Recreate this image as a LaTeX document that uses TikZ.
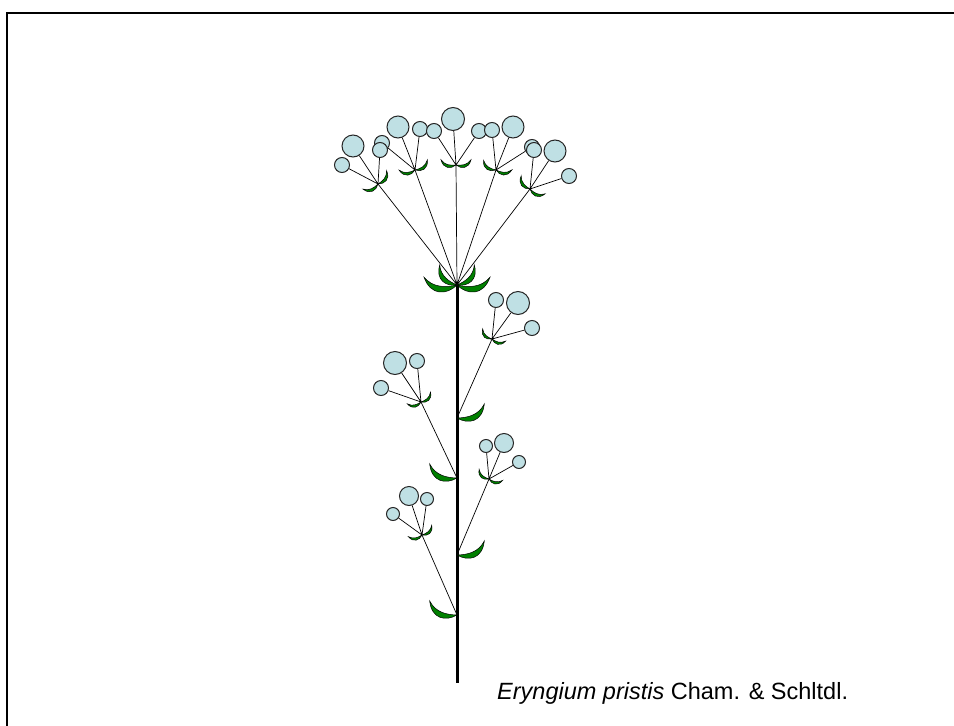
\documentclass[tikz,border=0pt]{standalone}
\usepackage{fontspec}
\setmainfont{Liberation Sans}
\usepackage{tikz}
\usetikzlibrary{backgrounds}
\definecolor{petal}{RGB}{191,224,228}
\definecolor{leaf}{RGB}{0,128,0}

\begin{document}
\begin{tikzpicture}[x=1pt,y=-1pt,
  flower/.style={draw=black!85,fill=petal,circle,inner sep=0pt,line width=1pt},
  stalk/.style={line width=0.7pt},
  bract/.pic={
    \filldraw[fill=leaf,draw=black,line width=0.5pt] (0,0)
      .. controls (0.35,0.28) and (0.85,0.26) .. (1,-0.35)
      .. controls (0.75,0.02) and (0.35,0.04) .. (0,0) -- cycle;
  }]
  \useasboundingbox (0,0) rectangle (954,726);
  \draw[line width=2pt] (7,726) -- (7,13) -- (954,13);

  % stem, umbel centre and side branches
  \coordinate (m) at (457,285);
  \coordinate (base) at (457,683);
  \coordinate (u1) at (378,184);
  \coordinate (u2) at (415,170);
  \coordinate (u3) at (456,165);
  \coordinate (u4) at (496,170);
  \coordinate (u5) at (530,189);
  \coordinate (sa) at (457,418);
  \coordinate (a) at (492,339);
  \coordinate (sb) at (457,478);
  \coordinate (b) at (421,402);
  \coordinate (sc) at (457,555);
  \coordinate (c) at (489,479);
  \coordinate (sd) at (457,615);
  \coordinate (d) at (422,535);

  % flowers (back ones first)
  \node[flower,minimum size=15pt] (f21) at (382,143){};
  \node[flower,minimum size=22pt] (f22) at (398,127){};
  \node[flower,minimum size=15pt] (f23) at (420,129){};
  \node[flower,minimum size=22pt] (f11) at (353,146){};
  \node[flower,minimum size=15pt] (f12) at (342,165){};
  \node[flower,minimum size=15pt] (f13) at (380,150){};
  \node[flower,minimum size=15pt] (f31) at (434,131){};
  \node[flower,minimum size=23pt] (f32) at (453,119){};
  \node[flower,minimum size=15pt] (f33) at (479,131){};
  \node[flower,minimum size=15pt] (f41) at (492,130){};
  \node[flower,minimum size=22pt] (f42) at (513,127){};
  \node[flower,minimum size=15pt] (f43) at (532,147){};
  \node[flower,minimum size=15pt] (f51) at (534,150){};
  \node[flower,minimum size=22pt] (f52) at (555,151){};
  \node[flower,minimum size=15pt] (f53) at (569,176){};

  \node[flower,minimum size=15pt] (fa1) at (496,300){};
  \node[flower,minimum size=23pt] (fa2) at (518,303){};
  \node[flower,minimum size=15pt] (fa3) at (532,328){};
  \node[flower,minimum size=23pt] (fb1) at (395,363){};
  \node[flower,minimum size=15pt] (fb2) at (417,361){};
  \node[flower,minimum size=15pt] (fb3) at (381,388){};
  \node[flower,minimum size=13pt] (fc1) at (486,446){};
  \node[flower,minimum size=19pt] (fc2) at (504,443){};
  \node[flower,minimum size=13pt] (fc3) at (519,462){};
  \node[flower,minimum size=19pt] (fd1) at (409,496){};
  \node[flower,minimum size=13pt] (fd2) at (427,499){};
  \node[flower,minimum size=13pt] (fd3) at (393,514){};

  \begin{scope}[on background layer]
    \draw[line width=3pt] (m) -- (base);
    \draw[stalk] (m)--(u1) (m)--(u2) (m)--(u3) (m)--(u4) (m)--(u5);
    \draw[stalk] (sa)--(a) (sb)--(b) (sc)--(c) (sd)--(d);
    \draw[stalk] (u1)--(f11) (u1)--(f12) (u1)--(f13);
    \draw[stalk] (u2)--(f21) (u2)--(f22) (u2)--(f23);
    \draw[stalk] (u3)--(f31) (u3)--(f32) (u3)--(f33);
    \draw[stalk] (u4)--(f41) (u4)--(f42) (u4)--(f43);
    \draw[stalk] (u5)--(f51) (u5)--(f52) (u5)--(f53);
    \draw[stalk] (a)--(fa1) (a)--(fa2) (a)--(fa3);
    \draw[stalk] (b)--(fb1) (b)--(fb2) (b)--(fb3);
    \draw[stalk] (c)--(fc1) (c)--(fc2) (c)--(fc3);
    \draw[stalk] (d)--(fd1) (d)--(fd2) (d)--(fd3);
  \end{scope}

  % involucre
  \pic[rotate=-6,scale=32] at (m) {bract};
  \pic[rotate=6,scale=32,xscale=-1] at (m) {bract};
  \pic[rotate=30,scale=25] at (m) {bract};
  \pic[rotate=-30,scale=25,xscale=-1] at (m) {bract};

  % bracteoles
  \pic[rotate=38,scale=15] at (u1) {bract};
  \pic[rotate=38,scale=15,xscale=-1] at (u1) {bract};
  \pic[rotate=20,scale=15] at (u2) {bract};
  \pic[rotate=20,scale=15,xscale=-1] at (u2) {bract};
  \pic[scale=15] at (u3) {bract};
  \pic[scale=15,xscale=-1] at (u3) {bract};
  \pic[rotate=-19,scale=15] at (u4) {bract};
  \pic[rotate=-19,scale=15,xscale=-1] at (u4) {bract};
  \pic[rotate=-37,scale=15] at (u5) {bract};
  \pic[rotate=-37,scale=15,xscale=-1] at (u5) {bract};
  \pic[rotate=-28,scale=13] at (a) {bract};
  \pic[rotate=-28,scale=13,xscale=-1] at (a) {bract};
  \pic[rotate=27,scale=13] at (b) {bract};
  \pic[rotate=27,scale=13,xscale=-1] at (b) {bract};
  \pic[rotate=-25,scale=13] at (c) {bract};
  \pic[rotate=-25,scale=13,xscale=-1] at (c) {bract};
  \pic[rotate=26,scale=13] at (d) {bract};
  \pic[rotate=26,scale=13,xscale=-1] at (d) {bract};

  % stem leaves
  \pic[rotate=8,scale=29] at (sa) {bract};
  \pic[rotate=-8,scale=29,xscale=-1] at (sb) {bract};
  \pic[rotate=8,scale=29] at (sc) {bract};
  \pic[rotate=-8,scale=29,xscale=-1] at (sd) {bract};

  \node[anchor=base west,inner sep=0pt,font=\fontsize{23.5}{28}\selectfont] (name)
    at (497,699) {\textit{Eryngium pristis} Cham. \& Schltdl.};
\end{tikzpicture}
\end{document}
